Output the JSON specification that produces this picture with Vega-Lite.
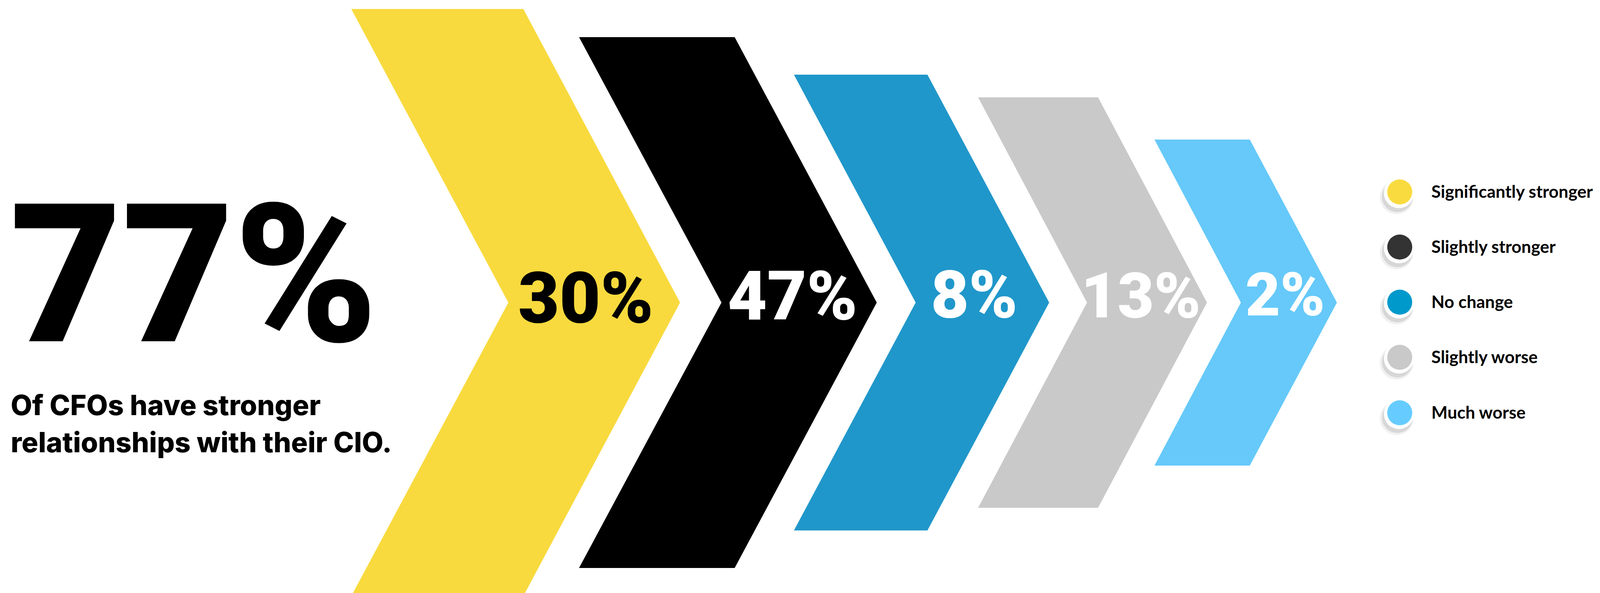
{
  "$schema": "https://vega.github.io/schema/vega-lite/v6.json",
  "width": 4096,
  "height": 1517,
  "autosize": {"type": "none"},
  "padding": 0,
  "background": "white",
  "config": {"view": {"stroke": null}, "font": "Roboto"},
  "datasets": {
    "chevrons": [
      {"response": "Significantly stronger", "y": 23, "left": 984, "right": 1466},
      {"response": "Significantly stronger", "y": 774, "left": 1424, "right": 1905},
      {"response": "Significantly stronger", "y": 1525, "left": 984, "right": 1466},
      {"response": "Slightly stronger", "y": 95, "left": 1622, "right": 2058},
      {"response": "Slightly stronger", "y": 774, "left": 2021, "right": 2456},
      {"response": "Slightly stronger", "y": 1453, "left": 1622, "right": 2058},
      {"response": "No change", "y": 191, "left": 2224, "right": 2598},
      {"response": "No change", "y": 774, "left": 2565, "right": 2939},
      {"response": "No change", "y": 1357, "left": 2224, "right": 2598},
      {"response": "Slightly worse", "y": 249, "left": 2740, "right": 3076},
      {"response": "Slightly worse", "y": 774, "left": 3045, "right": 3381},
      {"response": "Slightly worse", "y": 1299, "left": 2740, "right": 3076},
      {"response": "Much worse", "y": 357, "left": 3234, "right": 3501},
      {"response": "Much worse", "y": 774, "left": 3476, "right": 3745},
      {"response": "Much worse", "y": 1191, "left": 3234, "right": 3501}
    ],
    "shares": [
      {"response": "Significantly stronger", "label": "30%", "x": 1641, "y": 825},
      {"response": "Slightly stronger", "label": "47%", "x": 2220, "y": 817},
      {"response": "No change", "label": "8%", "x": 2729, "y": 812},
      {"response": "Slightly worse", "label": "13%", "x": 3196, "y": 812},
      {"response": "Much worse", "label": "2%", "x": 3600, "y": 807}
    ],
    "legend": [
      {"response": "Significantly stronger", "x": 3921, "y": 491},
      {"response": "Slightly stronger", "x": 3921, "y": 632},
      {"response": "No change", "x": 3921, "y": 773},
      {"response": "Slightly worse", "x": 3921, "y": 914},
      {"response": "Much worse", "x": 3921, "y": 1056}
    ],
    "headline": [
      {"text": "77%", "x": 28, "y": 873}
    ],
    "caption": [
      {"text": "Of CFOs have stronger", "x": 30, "y": 1062},
      {"text": "relationships with their CIO.", "x": 30, "y": 1157}
    ]
  },
  "resolve": {"scale": {"color": "independent", "size": "independent"}},
  "layer": [
    {
      "data": {"name": "chevrons"},
      "mark": {"type": "area", "orient": "horizontal", "clip": true},
      "encoding": {
        "y": {"field": "y", "type": "quantitative", "scale": {"domain": [0, 1517], "reverse": true, "nice": false, "zero": false}, "axis": null},
        "x": {"field": "left", "type": "quantitative", "stack": null, "scale": {"domain": [0, 4482], "nice": false, "zero": false}, "axis": null},
        "x2": {"field": "right"},
        "color": {
          "field": "response", "type": "nominal", "legend": null,
          "scale": {
            "domain": ["Significantly stronger", "Slightly stronger", "No change", "Slightly worse", "Much worse"],
            "range": ["#F8DA3E", "#000000", "#2097CA", "#C9C9C9", "#66C9F9"]
          }
        }
      }
    },
    {
      "data": {"name": "shares"},
      "mark": {"type": "text", "align": "center", "baseline": "alphabetic", "fontWeight": 900},
      "encoding": {
        "x": {"field": "x", "type": "quantitative"},
        "y": {"field": "y", "type": "quantitative"},
        "text": {"field": "label"},
        "size": {
          "field": "response", "type": "ordinal", "legend": null,
          "scale": {
            "domain": ["Significantly stronger", "Slightly stronger", "No change", "Slightly worse", "Much worse"],
            "range": [182, 154, 140, 130, 114]
          }
        },
        "color": {"condition": {"test": "datum.response === 'Significantly stronger'", "value": "#000000"}, "value": "#FFFFFF"}
      }
    },
    {
      "data": {"name": "headline"},
      "mark": {"type": "text", "align": "left", "baseline": "alphabetic", "fontWeight": 900, "fontSize": 495, "color": "#000000"},
      "encoding": {
        "x": {"field": "x", "type": "quantitative"},
        "y": {"field": "y", "type": "quantitative"},
        "text": {"field": "text"}
      }
    },
    {
      "data": {"name": "caption"},
      "mark": {"type": "text", "align": "left", "baseline": "alphabetic", "font": "Inter", "fontWeight": 800, "fontSize": 71, "color": "#000000"},
      "encoding": {
        "x": {"field": "x", "type": "quantitative"},
        "y": {"field": "y", "type": "quantitative"},
        "text": {"field": "text"}
      }
    },
    {
      "data": {"name": "legend"},
      "mark": {"type": "point", "shape": "circle", "filled": true, "color": "#000000", "opacity": 0.06, "size": 7400, "xOffset": -8, "yOffset": 14},
      "encoding": {
        "x": {"field": "x", "type": "quantitative"},
        "y": {"field": "y", "type": "quantitative"}
      }
    },
    {
      "data": {"name": "legend"},
      "mark": {"type": "point", "shape": "circle", "filled": true, "color": "#000000", "opacity": 0.1, "size": 6240, "xOffset": -6, "yOffset": 12},
      "encoding": {
        "x": {"field": "x", "type": "quantitative"},
        "y": {"field": "y", "type": "quantitative"}
      }
    },
    {
      "data": {"name": "legend"},
      "mark": {"type": "point", "shape": "circle", "filled": true, "color": "#FFFFFF", "opacity": 1, "size": 5929, "xOffset": -2, "yOffset": 3},
      "encoding": {
        "x": {"field": "x", "type": "quantitative"},
        "y": {"field": "y", "type": "quantitative"}
      }
    },
    {
      "data": {"name": "legend"},
      "mark": {"type": "point", "shape": "circle", "filled": true, "opacity": 1, "size": 4096},
      "encoding": {
        "x": {"field": "x", "type": "quantitative"},
        "y": {"field": "y", "type": "quantitative"},
        "color": {
          "field": "response", "type": "nominal", "legend": null,
          "scale": {
            "domain": ["Significantly stronger", "Slightly stronger", "No change", "Slightly worse", "Much worse"],
            "range": ["#F9DB3F", "#333333", "#0099CC", "#C9C9C9", "#66CCFF"]
          }
        }
      }
    },
    {
      "data": {"name": "legend"},
      "mark": {"type": "text", "align": "left", "baseline": "middle", "dx": 81, "dy": 2, "font": "Lato", "fontWeight": 700, "fontSize": 44, "color": "#000000"},
      "encoding": {
        "x": {"field": "x", "type": "quantitative"},
        "y": {"field": "y", "type": "quantitative"},
        "text": {"field": "response"}
      }
    }
  ]
}
